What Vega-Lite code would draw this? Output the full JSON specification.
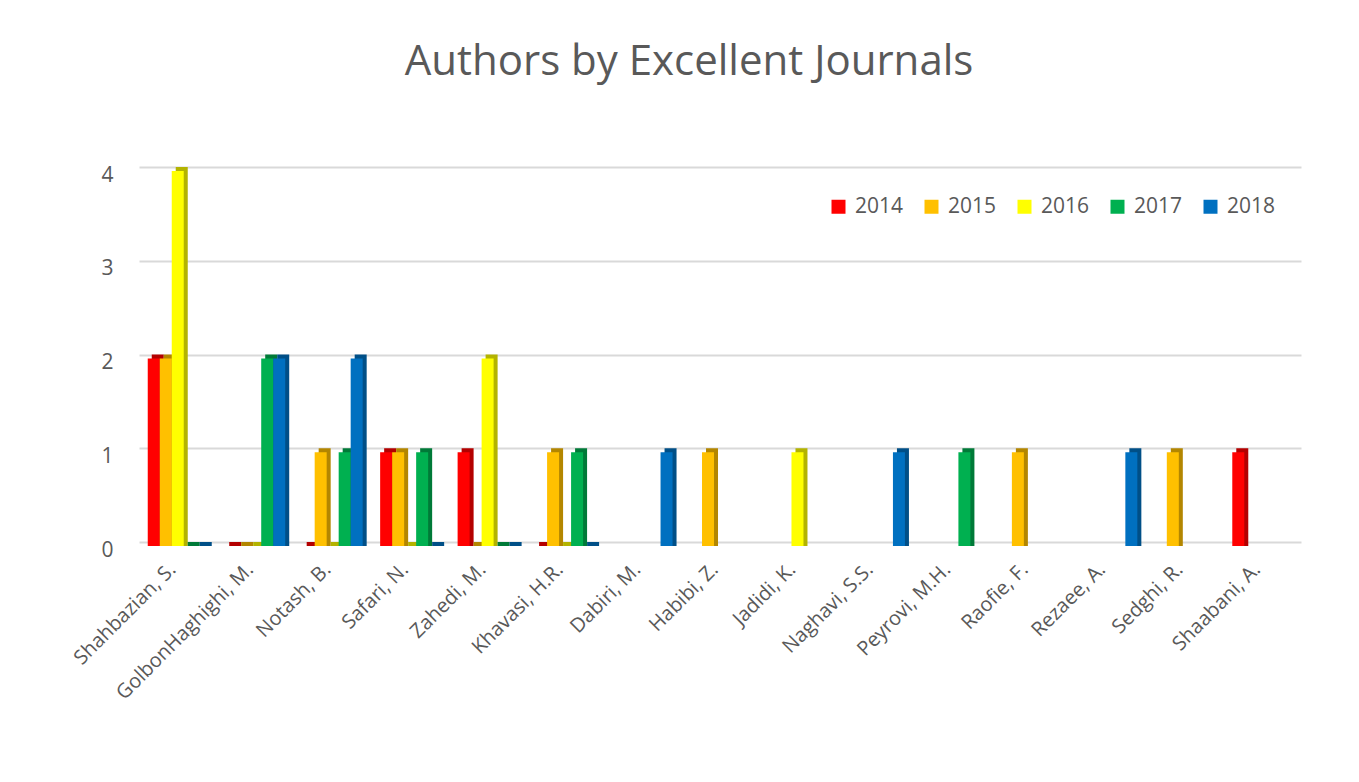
{
  "$schema": "https://vega.github.io/schema/vega-lite/v6.json",
  "width": 1162,
  "height": 375,
  "autosize": {"type": "none"},
  "padding": {"left": 139, "top": 171, "right": 58, "bottom": 236},
  "background": "white",
  "title": {
    "text": "Authors by Excellent Journals",
    "font": "Open Sans",
    "fontSize": 42,
    "fontWeight": "normal",
    "color": "#595959",
    "anchor": "middle",
    "baseline": "alphabetic",
    "dx": -31,
    "offset": 47
  },
  "config": {
    "view": {"stroke": null},
    "font": "Open Sans"
  },
  "data": {
    "values": [
      {"author": "Shahbazian, S.", "year": "2014", "n": 2},
      {"author": "Shahbazian, S.", "year": "2015", "n": 2},
      {"author": "Shahbazian, S.", "year": "2016", "n": 4},
      {"author": "Shahbazian, S.", "year": "2017", "n": 0},
      {"author": "Shahbazian, S.", "year": "2018", "n": 0},
      {"author": "GolbonHaghighi, M.", "year": "2014", "n": 0},
      {"author": "GolbonHaghighi, M.", "year": "2015", "n": 0},
      {"author": "GolbonHaghighi, M.", "year": "2016", "n": 0},
      {"author": "GolbonHaghighi, M.", "year": "2017", "n": 2},
      {"author": "GolbonHaghighi, M.", "year": "2018", "n": 2},
      {"author": "Notash, B.", "year": "2014", "n": 0},
      {"author": "Notash, B.", "year": "2015", "n": 1},
      {"author": "Notash, B.", "year": "2016", "n": 0},
      {"author": "Notash, B.", "year": "2017", "n": 1},
      {"author": "Notash, B.", "year": "2018", "n": 2},
      {"author": "Safari, N.", "year": "2014", "n": 1},
      {"author": "Safari, N.", "year": "2015", "n": 1},
      {"author": "Safari, N.", "year": "2016", "n": 0},
      {"author": "Safari, N.", "year": "2017", "n": 1},
      {"author": "Safari, N.", "year": "2018", "n": 0},
      {"author": "Zahedi, M.", "year": "2014", "n": 1},
      {"author": "Zahedi, M.", "year": "2015", "n": 0},
      {"author": "Zahedi, M.", "year": "2016", "n": 2},
      {"author": "Zahedi, M.", "year": "2017", "n": 0},
      {"author": "Zahedi, M.", "year": "2018", "n": 0},
      {"author": "Khavasi, H.R.", "year": "2014", "n": 0},
      {"author": "Khavasi, H.R.", "year": "2015", "n": 1},
      {"author": "Khavasi, H.R.", "year": "2016", "n": 0},
      {"author": "Khavasi, H.R.", "year": "2017", "n": 1},
      {"author": "Khavasi, H.R.", "year": "2018", "n": 0},
      {"author": "Dabiri, M.", "year": "2018", "n": 1},
      {"author": "Habibi, Z.", "year": "2015", "n": 1},
      {"author": "Jadidi, K.", "year": "2016", "n": 1},
      {"author": "Naghavi, S.S.", "year": "2018", "n": 1},
      {"author": "Peyrovi, M.H.", "year": "2017", "n": 1},
      {"author": "Raofie, F.", "year": "2015", "n": 1},
      {"author": "Rezaee, A.", "year": "2018", "n": 1},
      {"author": "Sedghi, R.", "year": "2015", "n": 1},
      {"author": "Shaabani, A.", "year": "2014", "n": 1}
    ]
  },
  "encoding": {
    "x": {
      "field": "author",
      "type": "nominal",
      "sort": null,
      "scale": {"paddingInner": 0.2258, "paddingOuter": 0.1129},
      "axis": {
        "title": null,
        "labelAngle": -45,
        "labelAlign": "right",
        "labelBaseline": "middle",
        "labelFont": "Open Sans",
        "labelFontSize": 20,
        "labelColor": "#595959",
        "labelPadding": 20,
        "labelOffset": -5,
        "labelLimit": 0,
        "labelOverlap": false,
        "ticks": false,
        "domain": false,
        "grid": false
      }
    }
  },
  "layer": [
    {
      "mark": {"type": "bar", "y2Offset": 4},
      "encoding": {
        "y": {
          "field": "n",
          "type": "quantitative",
          "scale": {"domain": [0, 4], "nice": false, "range": [371, -4]},
          "axis": {
            "orient": "right",
            "title": null,
            "values": [0, 1, 2, 3, 4],
            "labels": false,
            "ticks": false,
            "domain": false,
            "grid": true,
            "gridColor": "#d9d9d9",
            "gridWidth": 2
          }
        },
        "y2": {"datum": 0},
        "xOffset": {
          "field": "year",
          "type": "nominal",
          "scale": {"domain": ["2014", "2015", "2016", "2017", "2018"], "range": [4, 64], "paddingInner": 0, "paddingOuter": 0}
        },
        "color": {
          "field": "year",
          "type": "nominal",
          "scale": {"domain": ["2014", "2015", "2016", "2017", "2018"], "range": ["#b30000", "#b38600", "#b3b300", "#007a38", "#004f87"]},
          "legend": null
        }
      }
    },
    {
      "mark": {"type": "bar"},
      "encoding": {
        "y": {
          "field": "n",
          "type": "quantitative",
          "scale": {"domain": [0, 4], "nice": false},
          "axis": {
            "orient": "left",
            "title": null,
            "values": [0, 1, 2, 3, 4],
            "format": "d",
            "labelFont": "Open Sans",
            "labelFontSize": 21,
            "labelColor": "#595959",
            "labelPadding": 26,
            "labelOffset": 4,
            "ticks": false,
            "domain": false,
            "grid": false
          }
        },
        "xOffset": {
          "field": "year",
          "type": "nominal",
          "scale": {"domain": ["2014", "2015", "2016", "2017", "2018"], "range": [0, 60], "paddingInner": 0, "paddingOuter": 0}
        },
        "color": {
          "field": "year",
          "type": "nominal",
          "scale": {"domain": ["2014", "2015", "2016", "2017", "2018"], "range": ["#ff0000", "#ffc000", "#ffff00", "#00b050", "#0070c0"]},
          "legend": {
            "title": null,
            "orient": "none",
            "direction": "horizontal",
            "legendX": 689,
            "legendY": 25,
            "symbolType": "square",
            "symbolSize": 196,
            "symbolStrokeWidth": 0,
            "labelFont": "Open Sans",
            "labelFontSize": 21,
            "labelColor": "#595959",
            "labelOffset": 6,
            "columnPadding": 17
          }
        }
      }
    }
  ],
  "resolve": {"scale": {"color": "independent", "xOffset": "independent", "y": "independent"}, "axis": {"y": "independent"}}
}
